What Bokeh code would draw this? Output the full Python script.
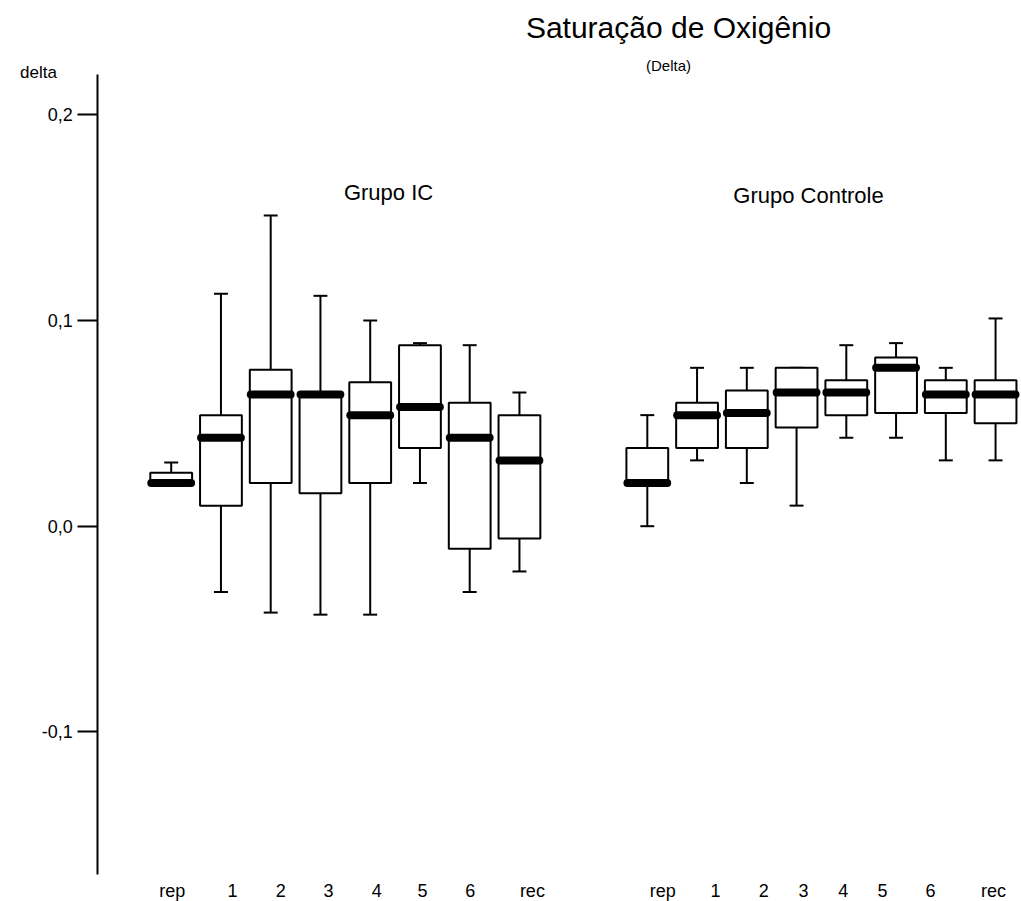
import numpy as np
from bokeh.plotting import figure
from bokeh.models import Range1d, FixedTicker, Label, ColumnDataSource
from bokeh.embed import file_html
from bokeh.resources import INLINE

# ---------------- data ----------------
periods = ["rep", "1", "2", "3", "4", "5", "6", "rec"]
groups = ["Grupo IC", "Grupo Controle"]

# Grupo IC
ic_low    = [0.021, -0.032, -0.042, -0.043, -0.043, 0.021, -0.032, -0.022]
ic_q1     = [0.021,  0.010,  0.021,  0.016,  0.021, 0.038, -0.011, -0.006]
ic_median = [0.021,  0.043,  0.064,  0.064,  0.054, 0.058,  0.043,  0.032]
ic_q3     = [0.026,  0.054,  0.076,  0.064,  0.070, 0.088,  0.060,  0.054]
ic_high   = [0.031,  0.113,  0.151,  0.112,  0.100, 0.089,  0.088,  0.065]

# Grupo Controle
ct_low    = [0.000, 0.032, 0.021, 0.010, 0.043, 0.043, 0.032, 0.032]
ct_q1     = [0.021, 0.038, 0.038, 0.048, 0.054, 0.055, 0.055, 0.050]
ct_median = [0.021, 0.054, 0.055, 0.065, 0.065, 0.077, 0.064, 0.064]
ct_q3     = [0.038, 0.060, 0.066, 0.077, 0.071, 0.082, 0.071, 0.071]
ct_high   = [0.054, 0.077, 0.077, 0.077, 0.088, 0.089, 0.077, 0.101]

y_ticks = [-0.1, 0.0, 0.1, 0.2]
y_tick_labels = ["-0,1", "0,0", "0,1", "0,2"]
y_axis_bounds = (-0.1693, 0.2196)

# ---------------- layout ----------------
group_offset = 9.57          # horizontal gap between the two groups (category units)
box_half = 0.42
median_half = 0.40
cap_half = 0.14
# where the period labels sit relative to each box (category units)
label_shift_ic = [0.02, 0.23, 0.20, 0.16, 0.13, 0.05, 0.01, 0.26]
label_shift_ct = [0.31, 0.37, 0.34, 0.14, -0.06, -0.27, -0.31, -0.04]
y_axis_x = -1.4754

x_ic = np.arange(len(periods), dtype=float)
x_ct = x_ic + group_offset
x_all = np.concatenate([x_ic, x_ct])

low = np.array(ic_low + ct_low)
q1 = np.array(ic_q1 + ct_q1)
med = np.array(ic_median + ct_median)
q3 = np.array(ic_q3 + ct_q3)
high = np.array(ic_high + ct_high)

src = ColumnDataSource(dict(
    x=x_all, low=low, q1=q1, med=med, q3=q3, high=high,
    xl=x_all - box_half, xr=x_all + box_half,
    ml=x_all - median_half, mr=x_all + median_half,
    cl=x_all - cap_half, cr=x_all + cap_half,
))

FONT = "Liberation Sans"

p = figure(width=1021, height=901,
           min_border_left=0, min_border_top=0, min_border_bottom=0, min_border_right=0,
           x_range=Range1d(-3.4312, 17.0915), y_range=Range1d(-0.18245, 0.25557),
           output_backend="svg", toolbar_location=None, tools="")
p.outline_line_color = None
p.xgrid.grid_line_color = None
p.ygrid.grid_line_color = None
p.background_fill_color = "white"
p.border_fill_color = "white"

# whiskers
p.segment(x0="x", y0="q3", x1="x", y1="high", source=src, line_color="black", line_width=2)
p.segment(x0="x", y0="low", x1="x", y1="q1", source=src, line_color="black", line_width=2)
# caps
p.segment(x0="cl", y0="high", x1="cr", y1="high", source=src, line_color="black", line_width=2)
p.segment(x0="cl", y0="low", x1="cr", y1="low", source=src, line_color="black", line_width=2)
# boxes
p.quad(left="xl", right="xr", bottom="q1", top="q3", source=src,
       fill_color="white", line_color="black", line_width=2)
# medians
p.segment(x0="ml", y0="med", x1="mr", y1="med", source=src,
          line_color="black", line_width=8, line_cap="round")

# y axis
yax = p.yaxis[0]
yax.fixed_location = y_axis_x
yax.bounds = y_axis_bounds
yax.ticker = FixedTicker(ticks=y_ticks)
yax.major_label_overrides = {t: l for t, l in zip(y_ticks, y_tick_labels)}
yax.minor_tick_line_color = None
yax.major_tick_out = 20
yax.major_tick_in = 0
yax.major_tick_line_width = 2
yax.axis_line_width = 2
yax.major_label_standoff = 5
yax.major_label_text_font = FONT
yax.major_label_text_font_size = "18px"
yax.major_label_text_color = "black"

# x axis (labels only)
tick_pos = list(x_ic + np.array(label_shift_ic)) + list(x_ct + np.array(label_shift_ct))
tick_lab = periods + periods
xax = p.xaxis[0]
xax.fixed_location = y_axis_bounds[0]
xax.ticker = FixedTicker(ticks=tick_pos)
xax.major_label_overrides = {float(t): l for t, l in zip(tick_pos, tick_lab)}
xax.axis_line_color = None
xax.major_tick_line_color = None
xax.minor_tick_line_color = None
xax.major_tick_out = 0
xax.major_tick_in = 0
xax.major_label_standoff = 7
xax.major_label_text_font = FONT
xax.major_label_text_font_size = "18px"
xax.major_label_text_color = "black"

# texts
def add_label(x, y, text, size):
    p.add_layout(Label(x=x, y=y, text=text, text_font=FONT, text_font_size=size,
                       text_align="center", text_baseline="middle", text_color="black"))

add_label(10.197, 0.2424, "Saturação de Oxigênio", "30px")
add_label(9.996, 0.2240, "(Delta)", "15px")
add_label(4.368, 0.1622, groups[0], "22px")
add_label(12.81, 0.1607, groups[1], "22px")
add_label(-2.667, 0.2206, "delta", "17px")

open("out.html", "w").write(file_html(p, INLINE))
